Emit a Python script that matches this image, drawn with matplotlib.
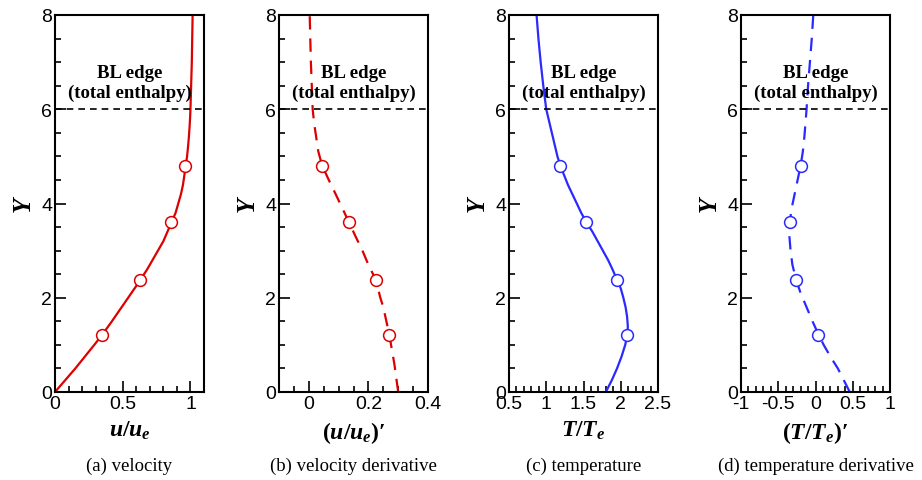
import matplotlib
matplotlib.use("Agg")
import matplotlib.pyplot as plt
from matplotlib.ticker import MultipleLocator

plt.rcParams['font.family'] = ['Liberation Sans', 'DejaVu Sans']
plt.rcParams['mathtext.fontset'] = 'custom'
plt.rcParams['mathtext.it'] = 'Liberation Serif:italic:bold'
plt.rcParams['mathtext.rm'] = 'Liberation Serif:bold'
plt.rcParams['mathtext.bf'] = 'Liberation Serif:bold'

# Curves (Y against value)
y_vel = [0, 0.25, 0.5, 0.75, 1.0, 1.22, 1.5, 1.75, 2.0, 2.25, 2.38, 2.6, 2.8, 3.0, 3.2, 3.4, 3.6,
         3.8, 4.0, 4.2, 4.4, 4.6, 4.8, 5.0, 5.2, 5.4, 5.6, 5.8, 6.0, 6.5, 7.0, 7.5, 8.0]
vel = [0, 0.075, 0.15, 0.22, 0.29, 0.35, 0.42, 0.48, 0.54, 0.60, 0.63, 0.68, 0.72, 0.76, 0.80, 0.83, 0.86,
       0.89, 0.91, 0.93, 0.945, 0.955, 0.965, 0.975, 0.982, 0.988, 0.993, 0.997, 1.0, 1.005, 1.01, 1.013, 1.016]

y_dvel = [0, 0.6, 1.22, 1.8, 2.0, 2.38, 2.7, 3.0, 3.3, 3.6, 4.2, 4.5, 4.8, 5.1, 5.4, 5.7, 6.0, 7.0, 8.0]
dvel = [0.30, 0.287, 0.27, 0.25, 0.24, 0.225, 0.20, 0.18, 0.157, 0.135, 0.09, 0.067, 0.045, 0.032, 0.025,
        0.018, 0.013, 0.007, 0.003]

y_temp = [0, 0.25, 0.5, 0.75, 1.0, 1.22, 1.4, 1.6, 1.8, 2.0, 2.2, 2.38, 2.6, 2.8, 3.0, 3.2, 3.4, 3.6,
          3.8, 4.0, 4.2, 4.4, 4.6, 4.8, 5.0, 5.2, 5.4, 5.6, 5.8, 6.0, 6.5, 7.0, 7.5, 8.0]
temp = [1.8, 1.88, 1.95, 2.01, 2.06, 2.09, 2.095, 2.085, 2.065, 2.035, 2.0, 1.95, 1.89, 1.83, 1.76, 1.69,
        1.62, 1.54, 1.47, 1.41, 1.35, 1.29, 1.24, 1.19, 1.15, 1.12, 1.09, 1.06, 1.03, 1.0, 0.96, 0.925,
        0.895, 0.87]

y_dtemp = [0, 0.25, 0.5, 0.75, 1.0, 1.22, 1.5, 1.8, 2.1, 2.38, 2.7, 3.0, 3.3, 3.6, 3.9, 4.2, 4.5, 4.8,
           5.1, 5.4, 5.7, 6.0, 6.5, 7.0, 7.5, 8.0]
dtemp = [0.46, 0.38, 0.30, 0.20, 0.11, 0.04, -0.04, -0.12, -0.20, -0.26, -0.31, -0.335, -0.35, -0.345,
         -0.32, -0.28, -0.24, -0.20, -0.17, -0.15, -0.135, -0.12, -0.10, -0.075, -0.05, -0.03]

# Marker positions
y_mark = [1.22, 2.38, 3.6, 4.8]
vel_mark = [0.35, 0.63, 0.86, 0.96]
dvel_mark = [0.27, 0.225, 0.135, 0.045]
temp_mark = [2.09, 1.95, 1.54, 1.19]
dtemp_mark = [0.04, -0.26, -0.34, -0.20]

x_labels = [r'$u/u_e$', r'$(u/u_e)$′', r'$T/T_e$', r'$(T/T_e)$′']
captions = ['(a) velocity', '(b) velocity derivative', '(c) temperature', '(d) temperature derivative']
xlims = [(0, 1.1), (-0.1, 0.4), (0.5, 2.5), (-1, 1)]
x_major = [0.5, 0.2, 0.5, 0.5]
x_minor = [0.1, 0.05, 0.1, 0.1]

red = '#dd0000'
blue = '#2a2aff'
series = [
    (y_vel, vel, vel_mark, red, '-'),
    (y_dvel, dvel, dvel_mark, red, '--'),
    (y_temp, temp, temp_mark, blue, '-'),
    (y_dtemp, dtemp, dtemp_mark, blue, '--'),
]

fig = plt.figure(figsize=(9.22, 4.81), dpi=100)
lefts = [55, 279, 509, 741]

for i in range(4):
    ax = fig.add_axes([lefts[i] / 922, 1 - 393 / 481, 149 / 922, 377 / 481])
    yy, xx, xm, col, ls = series[i]
    if ls == '--':
        ax.plot(xx, yy, color=col, lw=1.6, dashes=(6, 4))
    else:
        ax.plot(xx, yy, color=col, lw=1.6)
    ax.plot(xm, y_mark, 'o', ms=8.5, mfc='white', mec=col, mew=1.1, ls='none')
    ax.axhline(6, color='black', lw=1.2, dashes=(4, 3))
    ax.text(0.5, 0.82, 'BL edge\n(total enthalpy)', transform=ax.transAxes,
            ha='center', va='center', fontsize=13.5, fontweight='bold',
            family='Liberation Serif', linespacing=1.2)

    ax.set_xlim(*xlims[i])
    ax.set_ylim(0, 8)
    ax.xaxis.set_major_locator(MultipleLocator(x_major[i]))
    ax.xaxis.set_minor_locator(MultipleLocator(x_minor[i]))
    ax.yaxis.set_major_locator(MultipleLocator(2))
    ax.yaxis.set_minor_locator(MultipleLocator(0.5))
    ax.tick_params(which='both', direction='in', top=False, right=False, labelsize=14, width=1.2)
    ax.tick_params(which='major', length=8, pad=2)
    ax.tick_params(which='minor', length=4.5)
    ax.xaxis.set_major_formatter(plt.FuncFormatter(lambda v, p: f'{v:g}'))
    for s in ax.spines.values():
        s.set_linewidth(1.5)

    ax.set_ylabel(r'$Y$', fontsize=18, labelpad=4)
    ax.set_xlabel(x_labels[i], fontsize=17, labelpad=5, family='Liberation Serif', fontweight='bold')
    cx = (lefts[i] + 149 / 2) / 922
    fig.text(cx, 1 - 466 / 481, captions[i], ha='center', va='center',
             fontsize=13.5, family='Liberation Serif')

fig.savefig('out.png', dpi=100)
